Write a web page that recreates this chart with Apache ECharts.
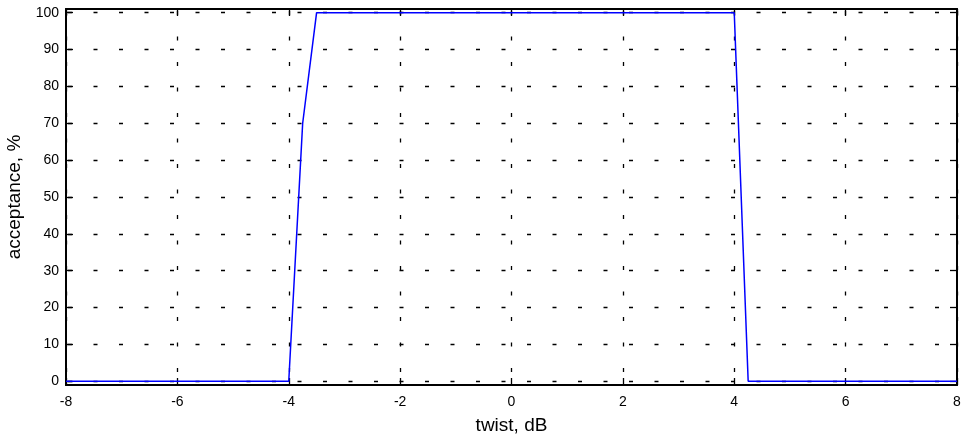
<!DOCTYPE html>
<html>
<head>
<meta charset="utf-8">
<script src="https://cdn.jsdelivr.net/npm/echarts@6/dist/echarts.min.js"></script>
<style>
  html, body { margin: 0; padding: 0; background: #fff; }
  #chart { width: 963px; height: 442px; }
</style>
</head>
<body>
<div id="chart"></div>
<script>
// twist (dB) vs acceptance (%)
const twist = [-8, -4, -3.75, -3.5, 4, 4.25, 8];
const acceptance = [0, 0, 70, 100, 100, 0, 0];
const xTicks = [-8, -6, -4, -2, 0, 2, 4, 6, 8];
const yTicks = [0, 10, 20, 30, 40, 50, 60, 70, 80, 90, 100];

const chart = echarts.init(document.getElementById('chart'));

const font = 'Liberation Sans, Arial, sans-serif';
const gridDash = {
    show: true,
    lineStyle: { color: '#000', width: 1.3, type: [4, 21.5], dashOffset: -2 }
};

chart.setOption({
    animation: false,
    grid: {
        left: 66, right: 6, top: 9, bottom: 57,
        outerBoundsMode: 'none',
        show: true, borderColor: '#000', borderWidth: 1.5
    },
    xAxis: [
        {
            type: 'value', min: -8, max: 8,
            name: 'twist, dB', nameLocation: 'middle', nameGap: 31,
            nameTextStyle: { fontFamily: font, fontSize: 19, color: '#000' },
            axisLine: { show: true, onZero: false, lineStyle: { color: '#000', width: 2 } },
            axisTick: { show: true, inside: true, length: 7, customValues: xTicks, lineStyle: { color: '#000', width: 1.3 } },
            axisLabel: { customValues: xTicks, margin: 10, fontFamily: font, fontSize: 14, color: '#000' },
            splitLine: gridDash
        },
        {
            type: 'value', min: -8, max: 8, position: 'top',
            axisLine: { show: true, onZero: false, lineStyle: { color: '#000', width: 2 } },
            axisTick: { show: true, inside: true, length: 7, customValues: xTicks, lineStyle: { color: '#000', width: 1.3 } },
            axisLabel: { show: false },
            splitLine: { show: false }
        }
    ],
    yAxis: [
        {
            type: 'value', min: -1, max: 101,
            name: 'acceptance, %', nameLocation: 'middle', nameGap: 42,
            nameTextStyle: { fontFamily: font, fontSize: 19, color: '#000' },
            axisLine: { show: true, onZero: false, lineStyle: { color: '#000', width: 2 } },
            axisTick: { show: true, inside: true, length: 7, customValues: yTicks, lineStyle: { color: '#000', width: 1.3 } },
            axisLabel: { customValues: yTicks, margin: 7, fontFamily: font, fontSize: 14, color: '#000' },
            splitLine: gridDash
        },
        {
            type: 'value', min: -1, max: 101, position: 'right',
            axisLine: { show: true, onZero: false, lineStyle: { color: '#000', width: 2 } },
            axisTick: { show: true, inside: true, length: 7, customValues: yTicks, lineStyle: { color: '#000', width: 1.3 } },
            axisLabel: { show: false },
            splitLine: { show: false }
        }
    ],
    series: [
        {
            type: 'line',
            data: twist.map((x, i) => [x, acceptance[i]]),
            showSymbol: false,
            lineStyle: { color: '#0000ff', width: 1.5 },
            itemStyle: { color: '#0000ff' }
        }
    ]
});
</script>
</body>
</html>
